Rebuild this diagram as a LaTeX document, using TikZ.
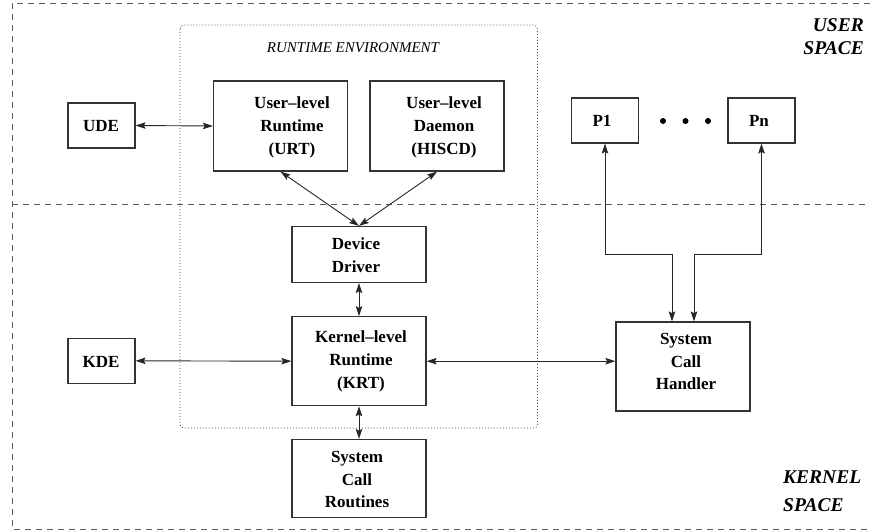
\documentclass[tikz,border=0pt]{standalone}
\usepackage{fontspec}
\setmainfont{Liberation Serif}
\usetikzlibrary{arrows.meta}
\begin{document}
\begin{tikzpicture}[x=1pt,y=-1pt,
  box/.style={draw=black!80, line width=1.2pt, inner sep=0pt},
  smallbox/.style={box, minimum width=67pt, minimum height=45pt},
  txt/.style={align=center, inner sep=0pt, font=\fontsize{17}{22.6}\selectfont\bfseries},
  tip/.tip={Stealth[length=10pt,width=6.5pt,inset=1.8pt]},
  link/.style={draw=black!85, line width=0.9pt, tip-tip},
  region/.style={draw=black!65, line width=1pt, dash pattern=on 6pt off 5pt},
  spacelabel/.style={inner sep=0pt, font=\fontsize{19.5}{22.7}\selectfont\bfseries\itshape}]
\useasboundingbox (0,0) rectangle (870,531);

% user/kernel boundary frame
\draw[region] (870,3) -- (12,3) -- (12,529) -- (870,529);
\draw[region] (12,204) -- (870,204);

% runtime environment enclosure
\draw[draw=black!70, line width=0.9pt, dash pattern=on 0.9pt off 2.1pt, rounded corners=4pt]
  (180,25) rectangle (537.5,428);
\node[inner sep=0pt, font=\fontsize{15}{18}\selectfont\itshape] (rtenv) at (353,47.5) {RUNTIME ENVIRONMENT};

% space labels
\node[spacelabel, align=right, anchor=east] (uspace) at (864,36.5) {USER\\SPACE};
\node[spacelabel, align=left, anchor=west, font=\fontsize{19.5}{27.7}\selectfont\bfseries\itshape] (kspace) at (783,491) {KERNEL\\SPACE};

% boxes
\node[smallbox] (ude) at (101.5,125.5) {};
\node[box, minimum width=134pt, minimum height=90pt] (urt) at (280.5,126) {};
\node[box, minimum width=134pt, minimum height=90pt] (hiscd) at (437,126) {};
\node[smallbox] (p1) at (605,120.5) {};
\node[smallbox] (pn) at (761.5,120.5) {};
\node[box, minimum width=134pt, minimum height=56pt] (dd) at (359,254.5) {};
\node[box, minimum width=134pt, minimum height=89pt] (krt) at (359,361.2) {};
\node[box, minimum width=134pt, minimum height=78pt] (scr) at (359,478.5) {};
\node[smallbox] (kde) at (101.5,360.8) {};
\node[box, minimum width=134pt, minimum height=89pt] (sch) at (683,366.5) {};

% box texts
\node[txt] (udet) at (101,126.5) {UDE};
\node[txt] (urtt) at (292,127.5) {User--level\\Runtime\\(URT)};
\node[txt] (hiscdt) at (444,127.5) {User--level\\Daemon\\(HISCD)};
\node[txt] (p1t) at (602,121) {P1};
\node[txt] (pnt) at (759,121) {Pn};
\node[txt] (ddt) at (356,255) {Device\\Driver};
\node[txt] (krtt) at (361,361.5) {Kernel--level\\Runtime\\(KRT)};
\node[txt] (scrt) at (357,479.5) {System\\Call\\Routines};
\node[txt] (kdet) at (101,362) {KDE};
\node[txt] (scht) at (686,361.5) {System\\Call\\Handler};

% ellipsis between processes
\fill[black] (663,121) circle (3pt) (685.5,121) circle (3pt) (708,121) circle (3pt);

% connectors
\path[link] (ude.east) -- (urt.west);
\path[link] (kde.east) -- (krt.west);
\path[link] (krt.east) -- (krt.east -| sch.west);
\path[link] (urt.south) -- (dd.north);
\path[link] (hiscd.south) -- (dd.north);
\path[link] (dd.south) -- (krt.north);
\path[link] (krt.south) -- (scr.north);
\coordinate (j1) at (672,254);
\coordinate (j2) at (694,254);
\path[link] (p1.south) |- (j1) -- (j1 |- sch.north);
\path[link] (pn.south) |- (j2) -- (j2 |- sch.north);
\end{tikzpicture}
\end{document}
